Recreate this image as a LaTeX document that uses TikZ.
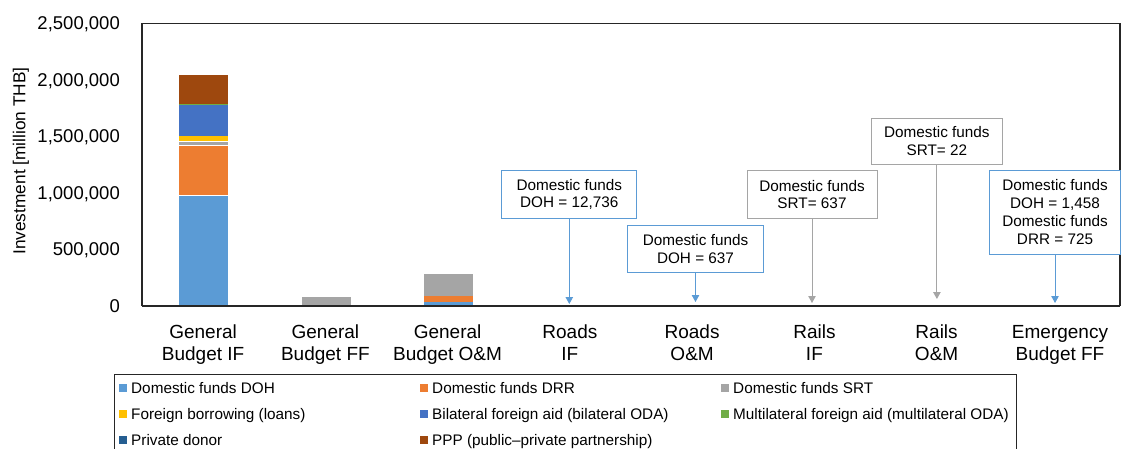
\documentclass[tikz,border=0pt]{standalone}
\usepackage{fontspec}
\setmainfont{Liberation Sans}
\usetikzlibrary{arrows.meta}
\definecolor{cDOH}{HTML}{5B9BD5}
\definecolor{cDRR}{HTML}{ED7D31}
\definecolor{cSRT}{HTML}{A5A5A5}
\definecolor{cFB}{HTML}{FFC000}
\definecolor{cBIL}{HTML}{4472C4}
\definecolor{cMUL}{HTML}{70AD47}
\definecolor{cPRI}{HTML}{255E91}
\definecolor{cPPP}{HTML}{9E480E}
\definecolor{frameC}{HTML}{262626}
\newcommand\barseg[4]{\fill[#1] (#2-24.5,#3) rectangle (#2+24.5,#4);}
\begin{document}
\begin{tikzpicture}[x=1pt,y=-1pt,
  ticklab/.style={font=\fontsize{18.5}{22}\selectfont, anchor=base east, inner sep=0pt},
  catlab/.style={font=\fontsize{19}{22}\selectfont, anchor=base, inner sep=0pt},
  leglab/.style={font=\fontsize{15.3}{18}\selectfont, anchor=base west, inner sep=0pt},
  annbox/.style={fill=white, line width=1pt, align=center, inner sep=0pt,
    font=\fontsize{15.3}{17.9}\selectfont},
  bluebox/.style={annbox, draw=cDOH},
  graybox/.style={annbox, draw=cSRT},
  bluearrow/.style={draw=cDOH!80!white, line width=0.9pt, -{Triangle[width=7.5pt,length=7pt]}, cDOH},
  grayarrow/.style={draw=cSRT, line width=0.9pt, -{Triangle[width=7.5pt,length=7pt]}, cSRT},
  legmark/.style={minimum size=8pt, inner sep=0pt}
]
\useasboundingbox (0,0) rectangle (1126,449);

% bars
% General Budget IF (203.1)
\barseg{cDOH}{203.1}{306}{195}
\barseg{cDRR}{203.1}{195}{145.3}
\barseg{cSRT}{203.1}{145.3}{141}
\barseg{cFB}{203.1}{141}{136}
\barseg{cBIL}{203.1}{136}{105}
\barseg{cMUL}{203.1}{105}{104}
\barseg{cPPP}{203.1}{104}{75}
\draw[white, line width=0.4pt] (178.6,195) -- (227.6,195) (178.6,145.3) -- (227.6,145.3) (178.6,141) -- (227.6,141);
% General Budget FF (326.5)
\barseg{cDOH}{326.5}{306}{305}
\barseg{cSRT}{326.5}{305}{297.3}
% General Budget O&M (448.8)
\barseg{cDOH}{448.8}{306}{301.7}
\barseg{cDRR}{448.8}{301.7}{295.5}
\barseg{cSRT}{448.8}{295.5}{274}
% Roads IF / Roads O&M
\barseg{cDOH}{572.5}{306}{304.5}
\barseg{cPRI}{694}{306}{304.8}

% plot frame
\draw[frameC, line width=1.1pt] (142,306) -- (142,23.5) -- (1120,23.5) -- (1120,306);
\draw[frameC, line width=1.6pt] (142,306) -- (1120,306);

% y tick labels
\node[ticklab] (t0) at (120,312.5) {0};
\node[ticklab] (t1) at (120,255.9) {500,000};
\node[ticklab] (t2) at (120,199.3) {1,000,000};
\node[ticklab] (t3) at (120,142.7) {1,500,000};
\node[ticklab] (t4) at (120,86.1) {2,000,000};
\node[ticklab] (t5) at (120,29.5) {2,500,000};
\node[rotate=90, font=\fontsize{17.3}{20}\selectfont, inner sep=0pt] (ylab) at (21,161) {Investment [million THB]};

% category labels
\node[catlab] (c1a) at (203.1,338.3) {General};
\node[catlab] (c1b) at (203.1,360) {Budget IF};
\node[catlab] (c2a) at (325.4,338.3) {General};
\node[catlab] (c2b) at (325.4,360) {Budget FF};
\node[catlab] (c3a) at (447.6,338.3) {General};
\node[catlab] (c3b) at (447.6,360) {Budget O\&M};
\node[catlab] (c4a) at (569.9,338.3) {Roads};
\node[catlab] (c4b) at (569.9,360) {IF};
\node[catlab] (c5a) at (692.1,338.3) {Roads};
\node[catlab] (c5b) at (692.1,360) {O\&M};
\node[catlab] (c6a) at (814.4,338.3) {Rails};
\node[catlab] (c6b) at (814.4,360) {IF};
\node[catlab] (c7a) at (936.6,338.3) {Rails};
\node[catlab] (c7b) at (936.6,360) {O\&M};
\node[catlab] (c8a) at (1060,338.3) {Emergency};
\node[catlab] (c8b) at (1060,360) {Budget FF};

% annotation boxes
\node[bluebox, minimum width=135.3pt, minimum height=47.3pt] (b1) at (569.3,194.4) {Domestic funds\\DOH = 12,736};
\node[bluebox, minimum width=135.6pt, minimum height=47pt] (b2) at (695.5,248.8) {Domestic funds\\DOH = 637};
\node[graybox, minimum width=130pt, minimum height=47pt] (b3) at (812,194.5) {Domestic funds\\SRT= 637};
\node[graybox, minimum width=131.7pt, minimum height=46pt] (b4) at (936.9,141.3) {Domestic funds\\SRT= 22};
\node[bluebox, minimum width=131.4pt, minimum height=84.3pt] (b5) at (1055,212.2) {Domestic funds\\DOH = 1,458\\Domestic funds\\DRR = 725};

\coordinate (e1) at (569.3,304);
\coordinate (e2) at (695.5,302);
\coordinate (e3) at (812,303);
\coordinate (e4) at (936.9,299);
\coordinate (e5) at (1055,303);
\draw[bluearrow] (b1.south) -- (e1);
\draw[bluearrow] (b2.south) -- (e2);
\draw[grayarrow] (b3.south) -- (e3);
\draw[grayarrow] (b4.south) -- (e4);
\draw[bluearrow] (b5.south) -- (e5);

% legend
\draw[frameC, line width=0.9pt] (114,451) -- (114,374) -- (1016,374) -- (1016,451);
\node[legmark, fill=cDOH] (m1) at (123,388) {};
\node[leglab] (l1) at (131,393.5) {Domestic funds DOH};
\node[legmark, fill=cDRR] (m2) at (424,388) {};
\node[leglab] (l2) at (432,393.5) {Domestic funds DRR};
\node[legmark, fill=cSRT] (m3) at (725,388) {};
\node[leglab] (l3) at (733,393.5) {Domestic funds SRT};
\node[legmark, fill=cFB] (m4) at (123,414) {};
\node[leglab] (l4) at (131,419.5) {Foreign borrowing (loans)};
\node[legmark, fill=cBIL] (m5) at (424,414) {};
\node[leglab] (l5) at (432,419.5) {Bilateral foreign aid (bilateral ODA)};
\node[legmark, fill=cMUL] (m6) at (725,414) {};
\node[leglab] (l6) at (733,419.5) {Multilateral foreign aid (multilateral ODA)};
\node[legmark, fill=cPRI] (m7) at (123,440) {};
\node[leglab] (l7) at (131,445.5) {Private donor};
\node[legmark, fill=cPPP] (m8) at (424,440) {};
\node[leglab] (l8) at (432,445.5) {PPP (public\textendash private partnership)};
\end{tikzpicture}
\end{document}
